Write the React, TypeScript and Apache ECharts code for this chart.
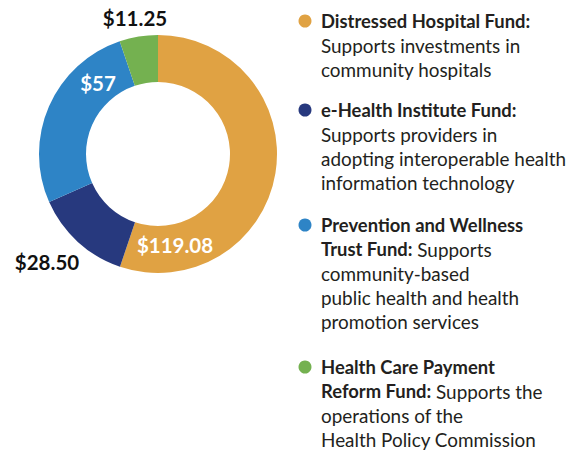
import React, { useEffect, useRef } from "react";
import * as echarts from "echarts";

const categories = [
  "Distressed Hospital Fund",
  "e-Health Institute Fund",
  "Prevention and Wellness Trust Fund",
  "Health Care Payment Reform Fund",
];
const values = [119.08, 28.5, 57, 11.25];
const valueLabels = ["$119.08", "$28.50", "$57", "$11.25"];
const colors = ["#E0A243", "#27397E", "#2E84C6", "#74B150"];

// legend lines: each line is a list of [style, text] segments
const legendLines: [string, string][][][] = [
  [
    [["b", "Distressed Hospital Fund:"]],
    [["r", "Supports investments in"]],
    [["r", "community hospitals"]],
  ],
  [
    [["b", "e-Health Institute Fund:"]],
    [["r", "Supports providers in"]],
    [["r", "adopting interoperable health"]],
    [["r", "information technology"]],
  ],
  [
    [["b", "Prevention and Wellness"]],
    [["b", "Trust Fund:"], ["r", " Supports"]],
    [["r", "community-based"]],
    [["r", "public health and health"]],
    [["r", "promotion services"]],
  ],
  [
    [["b", "Health Care Payment"]],
    [["b", "Reform Fund:"], ["r", " Supports the"]],
    [["r", "operations of the"]],
    [["r", "Health Policy Commission"]],
  ],
];

const CX = 158;
const CY = 154;
// label offsets relative to chart centre
const labelOffsets = [
  [17, 91],
  [-111, 108],
  [-60, -71],
  [-23, -136],
];
const labelColors = ["#ffffff", "#111111", "#ffffff", "#111111"];
const legendTops = [9, 98, 213, 355];

export default function App() {
  const ref = useRef<HTMLDivElement>(null);
  useEffect(() => {
    if (!ref.current) return;
    const chart = echarts.init(ref.current, null, { renderer: "svg" });
    const LH = 24;
    const graphic: any[] = [];
    legendLines.forEach((block, i) => {
      const top = legendTops[i];
      graphic.push({
        type: "circle",
        shape: { cx: 305, cy: top + 12, r: 6.5 },
        style: { fill: colors[i] },
      });
      const text = block
        .map((line) => line.map(([s, t]) => `{${s}|${t}}`).join(""))
        .join("\n");
      graphic.push({
        type: "text",
        x: 321,
        y: top,
        style: {
          text,
          rich: {
            b: {
              fontFamily: "Lato",
              fontWeight: "bold",
              fontSize: 18.4,
              lineHeight: LH,
              fill: "#231f20",
            },
            r: {
              fontFamily: "Lato",
              fontWeight: "normal",
              fontSize: 18.9,
              lineHeight: LH,
              fill: "#231f20",
            },
          },
        },
      });
    });

    chart.setOption({
      animation: false,
      backgroundColor: "#ffffff",
      graphic,
      series: [
        {
          type: "pie",
          center: [CX, CY],
          radius: [72, 119],
          startAngle: 90,
          clockwise: true,
          silent: true,
          itemStyle: { borderWidth: 0 },
          label: {
            show: true,
            position: "inside",
            fontFamily: "Lato",
            fontWeight: "bold",
            fontSize: 20.5,
            formatter: (p: any) => valueLabels[p.dataIndex],
          },
          labelLine: { show: false },
          labelLayout: (p: any) => ({
            x: CX + labelOffsets[p.dataIndex][0],
            y: CY + labelOffsets[p.dataIndex][1],
            align: "center",
            verticalAlign: "middle",
          }),
          data: categories.map((name, i) => ({
            name,
            value: values[i],
            itemStyle: { color: colors[i] },
            label: { color: labelColors[i] },
          })),
        },
      ],
    });
    return () => chart.dispose();
  }, []);
  return (
    <div
      ref={ref}
      style={{ position: "absolute", left: 0, top: 0, width: 572, height: 451 }}
    />
  );
}
